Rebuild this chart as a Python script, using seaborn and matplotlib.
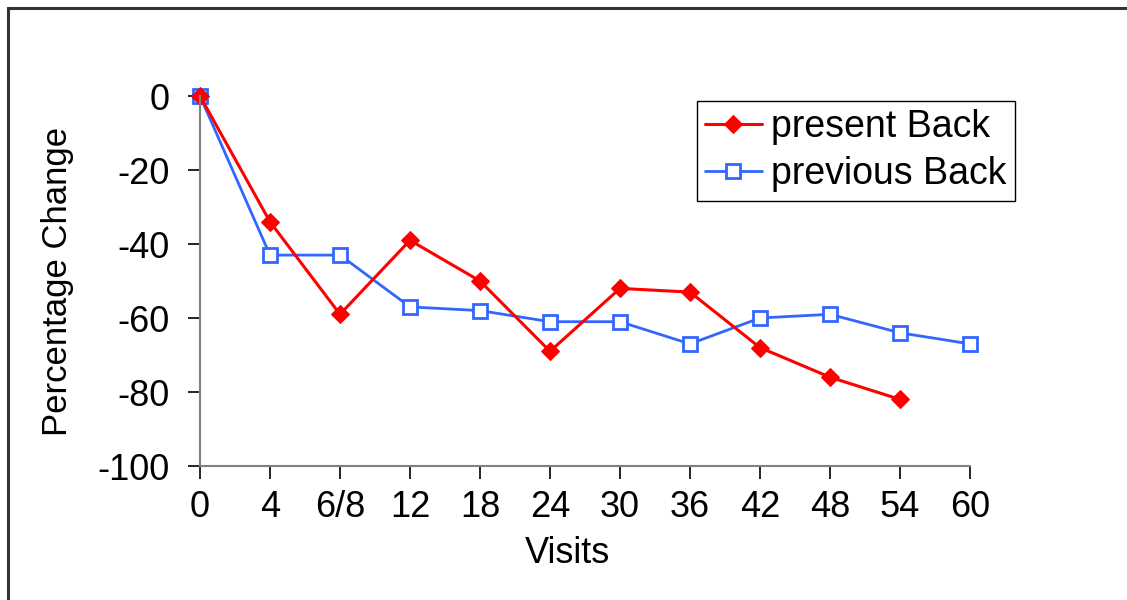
import matplotlib
matplotlib.use('Agg')
import matplotlib.pyplot as plt
import seaborn as sns
import pandas as pd
from matplotlib.patches import Rectangle

# data
visits = ['0', '4', '6/8', '12', '18', '24', '30', '36', '42', '48', '54', '60']
present_back = [0, -34, -59, -39, -50, -69, -52, -53, -68, -76, -82]
previous_back = [0, -43, -43, -57, -58, -61, -61, -67, -60, -59, -64, -67]

present = pd.DataFrame({'pos': range(len(present_back)), 'change': present_back})
previous = pd.DataFrame({'pos': range(len(previous_back)), 'change': previous_back})

sns.set_style('white')
plt.rcParams['font.family'] = ['Liberation Sans', 'DejaVu Sans']
plt.rcParams['axes.unicode_minus'] = False
plt.rcParams['text.color'] = 'black'
plt.rcParams['axes.labelcolor'] = 'black'
plt.rcParams['xtick.color'] = 'black'
plt.rcParams['ytick.color'] = 'black'

fig = plt.figure(figsize=(11.27, 6), dpi=100)
ax = fig.add_axes([200 / 1127, 1 - 466 / 600, 770 / 1127, 370 / 600])

# previous first so the red marker sits on top at visit 0
sns.lineplot(data=previous, x='pos', y='change', ax=ax, color='#3366FF', lw=2,
             marker='s', markersize=10, markerfacecolor='white',
             markeredgecolor='#3366FF', markeredgewidth=2,
             label='previous Back', clip_on=False)
sns.lineplot(data=present, x='pos', y='change', ax=ax, color='#FF0000', lw=2.2,
             marker='D', markersize=9.5, markerfacecolor='#FF0000',
             markeredgecolor='#FF0000', label='present Back', clip_on=False)

ax.set_xlim(0, len(visits) - 1)
ax.set_ylim(-100, 0)
ax.set_xticks(range(len(visits)))
ax.set_xticklabels(visits)
ax.set_yticks(range(-100, 1, 20))
ax.tick_params(axis='both', direction='out', length=9, width=1.2,
               labelsize=26, bottom=True, left=True)
ax.tick_params(axis='y', pad=13)
ax.tick_params(axis='x', pad=8)
for s in ['top', 'right']:
    ax.spines[s].set_visible(False)
for s in ['left', 'bottom']:
    ax.spines[s].set_color('#808080')
    ax.spines[s].set_linewidth(1.5)
ax.set_xlabel('Visits', fontsize=26, labelpad=8)
ax.xaxis.label.set_x((567 - 200) / 770)
ax.set_ylabel('Percentage Change', fontsize=25, labelpad=17)

handles, labels = ax.get_legend_handles_labels()
leg = ax.legend(handles[::-1], labels[::-1], loc='upper left',
                bbox_to_anchor=((697 - 200) / 770, (466 - 101) / 370),
                fontsize=27, frameon=True, fancybox=False, framealpha=1,
                edgecolor='black', handlelength=1.5, handletextpad=0.25,
                borderpad=0.22, labelspacing=0.3, borderaxespad=0)
leg.get_frame().set_linewidth(1)

# outer frame, cut by the bottom and right edges
fig.patches.append(Rectangle((8 / 1127, -0.1), 1.2, 1.1 - 8 / 600,
                             transform=fig.transFigure, fill=False,
                             edgecolor='#333333', lw=2.2))

fig.savefig('out.png', dpi=100)
